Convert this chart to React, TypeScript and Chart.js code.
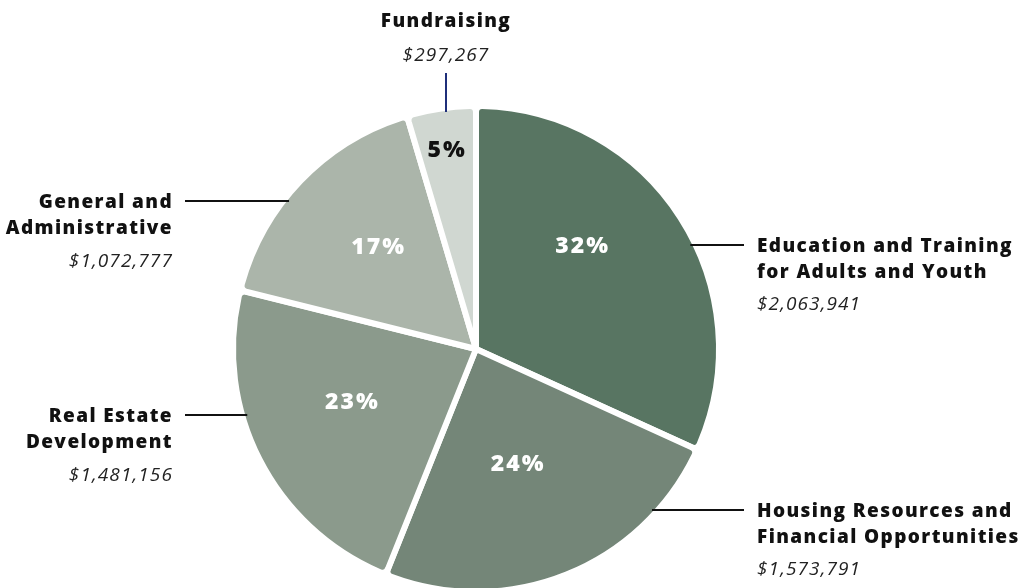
import React, { useEffect, useRef } from "react";
import { Chart, registerables } from "chart.js";

Chart.register(...registerables);

const categories = [
  ["Education and Training", "for Adults and Youth"],
  ["Housing Resources and", "Financial Opportunities"],
  ["Real Estate", "Development"],
  ["General and", "Administrative"],
  ["Fundraising"],
];
const amounts = [2063941, 1573791, 1481156, 1072777, 297267];
const amountLabels = ["$2,063,941", "$1,573,791", "$1,481,156", "$1,072,777", "$297,267"];
const percentLabels = ["32%", "24%", "23%", "17%", "5%"];
const colors = ["#587562", "#748678", "#8b9a8c", "#abb5aa", "#d0d7d1"];

const BORDER = 6;
const BOLD = "800 19px 'Open Sans'";
const ITAL = "italic 400 19px 'Open Sans'";

// per-slice placement of the percent label (angle tweak in radians, radius fraction)
const pctPlace = [
  { da: -0.2, rf: 0.62 },
  { da: 0.03, rf: 0.51 },
  { da: 0.07, rf: 0.56 },
  { da: 0.05, rf: 0.59 },
  { da: 0.0, rf: 0.84 },
];

// label layout: side, first line y
const labelPlace = [
  { side: "right", y: 245 },
  { side: "right", y: 510 },
  { side: "left", y: 415 },
  { side: "left", y: 201 },
  { side: "top", y: 20 },
];

const labelPlugin = {
  id: "labels",
  afterDatasetsDraw(chart: any) {
    const ctx: CanvasRenderingContext2D = chart.ctx;
    const meta = chart.getDatasetMeta(0);
    const arcs = meta.data;
    if (!arcs.length) return;
    const cx = arcs[0].x;
    const cy = arcs[0].y;
    const R = arcs[0].outerRadius - BORDER / 2;
    ctx.save();
    arcs.forEach((arc: any, i: number) => {
      const mid = (arc.startAngle + arc.endAngle) / 2 + pctPlace[i].da;
      const r = R * pctPlace[i].rf;
      const x = cx + Math.cos(mid) * r;
      const y = cy + Math.sin(mid) * r;
      ctx.font = "800 23px 'Open Sans'";
      (ctx as any).letterSpacing = "2px";
      ctx.fillStyle = i === 4 ? "#111111" : "#ffffff";
      ctx.textAlign = "center";
      ctx.textBaseline = "middle";
      ctx.fillText(percentLabels[i], x, y + 1);
    });
    const lh = 26;
    const tdy = 1.5;
    categories.forEach((lines, i) => {
      const p = labelPlace[i];
      ctx.textBaseline = "middle";
      const setBold = () => {
        ctx.font = BOLD;
        ctx.fillStyle = "#111111";
        (ctx as any).letterSpacing = "1.4px";
      };
      const setItal = () => {
        ctx.font = ITAL;
        ctx.fillStyle = "#222222";
        (ctx as any).letterSpacing = "1.1px";
      };
      if (p.side === "top") {
        const x = cx - 30;
        ctx.textAlign = "center";
        setBold();
        ctx.fillText(lines[0], x, p.y + tdy);
        setItal();
        ctx.fillText(amountLabels[i], x, p.y + 36);
        ctx.strokeStyle = "#1f2f7a";
        ctx.lineWidth = 2;
        ctx.beginPath();
        ctx.moveTo(x, p.y + 53);
        const dx = x - cx;
        ctx.lineTo(x, cy - Math.sqrt(R * R - dx * dx) + 1);
        ctx.stroke();
        return;
      }
      const dy = p.y - cy;
      const edge = Math.sqrt(Math.max(R * R - dy * dy, 0));
      ctx.strokeStyle = "#111111";
      ctx.lineWidth = 2;
      ctx.beginPath();
      if (p.side === "right") {
        const tx = 757;
        ctx.moveTo(cx + edge - 2, p.y);
        ctx.lineTo(tx - 13, p.y);
        ctx.stroke();
        ctx.textAlign = "left";
        setBold();
        lines.forEach((l, k) => ctx.fillText(l, tx, p.y + k * lh + tdy));
        setItal();
        ctx.fillText(amountLabels[i], tx, p.y + 60);
      } else {
        const tx = 173;
        ctx.moveTo(cx - edge + 2, p.y);
        ctx.lineTo(tx + 12, p.y);
        ctx.stroke();
        ctx.textAlign = "right";
        setBold();
        lines.forEach((l, k) => ctx.fillText(l, tx, p.y + k * lh + tdy));
        setItal();
        ctx.fillText(amountLabels[i], tx, p.y + 61);
      }
    });
    ctx.restore();
  },
};

export default function App() {
  const ref = useRef<HTMLCanvasElement>(null);
  useEffect(() => {
    document.body.style.margin = "0";
    const canvas = ref.current!;
    const chart = new Chart(canvas, {
      type: "pie",
      data: {
        labels: categories.map((c) => c.join(" ")),
        datasets: [
          {
            data: amounts,
            backgroundColor: colors,
            borderColor: "#ffffff",
            borderWidth: BORDER,
            borderRadius: 6,
            hoverOffset: 0,
          },
        ],
      },
      options: {
        responsive: false,
        animation: false,
        devicePixelRatio: 1,
        layout: { padding: { left: 230, right: 297, top: 103, bottom: 25 } },
        plugins: {
          legend: { display: false },
          tooltip: { enabled: false },
        },
      },
      plugins: [labelPlugin],
    });
    return () => chart.destroy();
  }, []);
  return (
    <div style={{ width: 1019, height: 588, overflow: "hidden", background: "#ffffff" }}>
      <canvas ref={ref} width={1019} height={620} style={{ display: "block" }} />
    </div>
  );
}
